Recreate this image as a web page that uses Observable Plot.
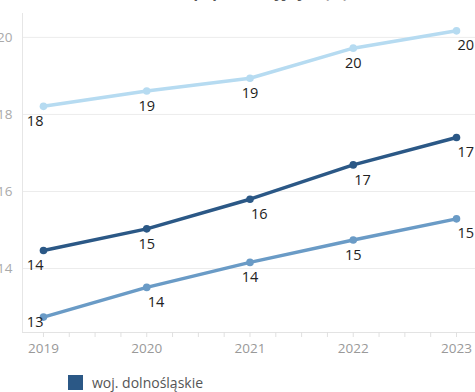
<!DOCTYPE html>
<html>
<head>
<meta charset="utf-8">
<script src="https://cdn.jsdelivr.net/npm/d3@7"></script>
<script src="https://cdn.jsdelivr.net/npm/@observablehq/plot@0.6"></script>
<style>
  html, body { margin: 0; padding: 0; background: white; }
  #wrap { position: relative; width: 475px; height: 392px; overflow: hidden; font-family: "Open Sans", sans-serif; }
  #title { position: absolute; right: 127px; top: -15px; font-size: 15px; font-weight: 700; color: #555; line-height: 15px; white-space: nowrap; }
  #chart svg { max-width: none; display: block; }
  .legend { margin-left: 68px; margin-top: 11px; }
  .legend .item { display: flex; align-items: center; height: 19px; margin-bottom: 4px; }
  .legend .sw { width: 15px; height: 15px; margin-right: 9px; }
  .legend .lab { font-size: 14px; color: #555; }
</style>
</head>
<body>
<div id="wrap">
  <div id="chart"></div>
  <div id="title">Ludność w wieku poprodukcyjnym (%)</div>
  <div class="legend" id="legend"></div>
</div>
<script>
// Data
const years = [2019, 2020, 2021, 2022, 2023];
const seriesNames = ["woj. dolnośląskie", "Polska", "m. Wrocław"];
const seriesColors = ["#2b5886", "#6a9bc6", "#b6dbf1"];
const dolnoslaskie = [14.47, 15.03, 15.80, 16.69, 17.40];
const polska = [12.74, 13.51, 14.16, 14.74, 15.29];
const wroclaw = [18.21, 18.61, 18.94, 19.72, 20.17];
const yTicks = [14, 16, 18, 20];

// label placement (style)
const anchors = {
  "woj. dolnośląskie": ["end", "middle", "start", "start", "start"],
  "Polska": ["end", "start", "middle", "middle", "start"],
  "m. Wrocław": ["end", "middle", "middle", "middle", "start"]
};
const lowOffset = {"Polska": [true, false, false, false, false]};

const valuesBySeries = [dolnoslaskie, polska, wroclaw];
const data = [];
seriesNames.forEach((s, i) => {
  years.forEach((y, j) => {
    data.push({
      series: s, year: y, value: valuesBySeries[i][j],
      anchor: anchors[s][j],
      near: lowOffset[s] ? lowOffset[s][j] : false
    });
  });
});

const xDomain = [2018.797, 2023.184];
const yDomain = [12.34, 20.62];
const fmt = d3.format(".0f");

function labels(anchor, near) {
  return Plot.text(data.filter(d => d.anchor === anchor && d.near === near), {
    x: "year", y: "value", text: d => fmt(d.value),
    textAnchor: anchor, dy: near ? 5 : 15, dx: anchor === "start" ? 1 : 0,
    fill: "#222", fontSize: 14.5
  });
}

const marks = [
  Plot.gridY(yTicks, {stroke: "#ececec", strokeOpacity: 1}),
  Plot.ruleX([xDomain[0]], {stroke: "#e6e6e6"}),
  Plot.ruleY([yDomain[0]], {stroke: "#e3e3e3"}),
  Plot.axisX(d3.range(2019, 2023.01, 0.25), {tickSize: 5, tickFormat: () => "", stroke: "#e0e0e0", label: null}),
  Plot.axisX(years, {tickSize: 0, tickPadding: 11, tickFormat: "d", fill: "#999", fontSize: 13.5, label: null}),
  Plot.axisY(yTicks, {tickSize: 0, tickPadding: 10, fill: "#aaa", fontSize: 13.5, label: null}),
  Plot.line(data, {x: "year", y: "value", stroke: "series", strokeWidth: 3.5}),
  Plot.dot(data, {x: "year", y: "value", fill: "series", r: 3.8}),
];
for (const a of ["end", "middle", "start"]) {
  marks.push(labels(a, false));
  marks.push(labels(a, true));
}

const chart = Plot.plot({
  width: 475, height: 362,
  marginLeft: 22, marginRight: 0, marginTop: 13, marginBottom: 30,
  style: {overflow: "visible", fontFamily: "'Open Sans', sans-serif", background: "transparent"},
  x: {domain: xDomain, axis: null},
  y: {domain: yDomain, axis: null},
  color: {domain: seriesNames, range: seriesColors},
  marks
});
document.getElementById("chart").appendChild(chart);

const legend = document.getElementById("legend");
seriesNames.forEach((s, i) => {
  const it = document.createElement("div");
  it.className = "item";
  it.innerHTML = `<div class="sw" style="background:${seriesColors[i]}"></div><div class="lab">${s}</div>`;
  legend.appendChild(it);
});
</script>
</body>
</html>
